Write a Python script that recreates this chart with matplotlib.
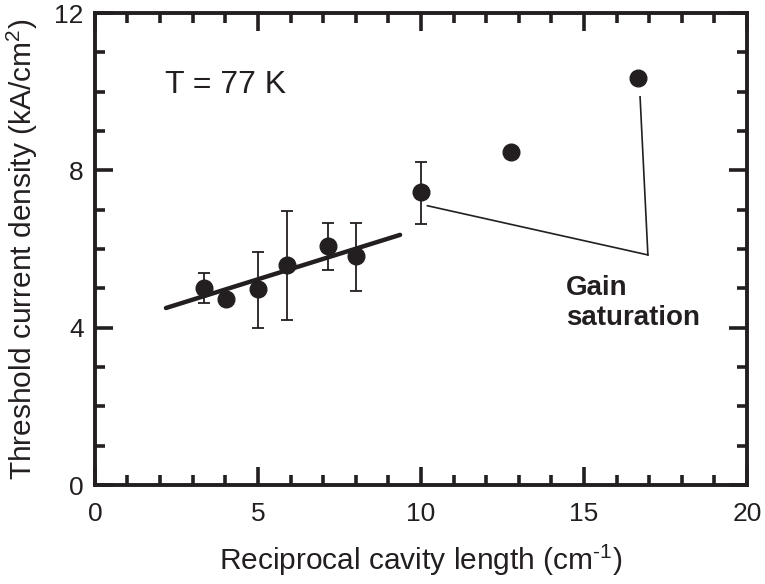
import matplotlib
matplotlib.use('Agg')
import matplotlib.pyplot as plt
from matplotlib.ticker import MultipleLocator

plt.rcParams['font.family'] = ['Liberation Sans', 'DejaVu Sans']
plt.rcParams['mathtext.fontset'] = 'custom'
plt.rcParams['mathtext.rm'] = 'Liberation Sans'
plt.rcParams['mathtext.default'] = 'regular'

ink = '#231f20'

# data
x_err = [3.34, 5.0, 5.89, 7.15, 8.0, 10.0]
y_err = [5.02, 4.98, 5.59, 6.08, 5.82, 7.45]
y_lo = [4.62, 4.0, 4.2, 5.47, 4.93, 6.64]
y_hi = [5.4, 5.92, 6.97, 6.66, 6.66, 8.21]

x_pts = [4.02, 12.76, 16.66]
y_pts = [4.74, 8.47, 10.35]

fit_x = [2.18, 9.36]
fit_y = [4.50, 6.36]

# annotation pointer lines (Gain saturation)
ann_x1 = [10.2, 16.96]
ann_y1 = [7.1, 5.85]
ann_x2 = [16.96, 16.72]
ann_y2 = [5.85, 9.87]

fig = plt.figure(figsize=(7.65, 5.84), dpi=100)
ax = fig.add_axes([0.124, 0.1695, 0.8525, 0.8082])

lo = [y - l for y, l in zip(y_err, y_lo)]
hi = [h - y for y, h in zip(y_err, y_hi)]
ax.errorbar(x_err, y_err, yerr=[lo, hi], fmt='o', color=ink, ms=12,
            elinewidth=1.3, capsize=4.3, capthick=1.3, zorder=3)
ax.plot(x_pts, y_pts, 'o', color=ink, ms=12, zorder=3)
ax.plot(fit_x, fit_y, '-', color=ink, lw=3.2, solid_capstyle='round', zorder=2)
ax.plot(ann_x1, ann_y1, '-', color=ink, lw=1.2)
ax.plot(ann_x2, ann_y2, '-', color=ink, lw=1.2)

ax.text(2.15, 10.18, 'T = 77 K', fontsize=23, color=ink, va='center')
ax.text(14.45, 4.63, 'Gain\nsaturation', fontsize=20, fontweight='bold',
        color=ink, va='center', ha='left', linespacing=1.2)

ax.set_xlim(0, 20)
ax.set_ylim(0, 12)
ax.xaxis.set_major_locator(MultipleLocator(5))
ax.xaxis.set_minor_locator(MultipleLocator(1))
ax.yaxis.set_major_locator(MultipleLocator(4))
ax.yaxis.set_minor_locator(MultipleLocator(1))
ax.tick_params(which='both', direction='in', top=True, right=True,
               color=ink, labelcolor=ink, labelsize=19, width=2.6)
ax.tick_params(which='major', length=13)
ax.tick_params(which='minor', length=7.5)
ax.tick_params(axis='x', pad=12)
ax.tick_params(axis='y', pad=8)
for s in ax.spines.values():
    s.set_linewidth(2.8)
    s.set_color(ink)

ax.set_xlabel(r'Reciprocal cavity length (cm$^{\text{-1}}$)', fontsize=21.5, color=ink, labelpad=12)
ax.set_ylabel('Threshold current density (kA/cm$^{2}$)', fontsize=21.5, color=ink, labelpad=10)

fig.savefig('out.png', dpi=100)
